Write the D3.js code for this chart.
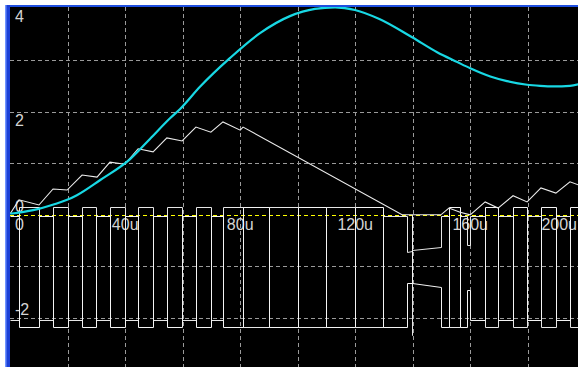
<!DOCTYPE html>
<html><head><meta charset="utf-8">
<script src="https://cdn.jsdelivr.net/npm/d3@7"></script>
<style>html,body{margin:0;padding:0;background:#fff;overflow:hidden}</style>
</head><body>
<svg id="c" width="578" height="367"></svg>
<script>
// ---- data (time in µs, value in V/A) ----
const xTicks = [0, 40, 80, 120, 160, 200];
const xTickLabels = ["0", "40u", "80u", "120u", "160u", "200u"];
const xGrid = [20, 40, 60, 80, 100, 120, 140, 160, 180];
const yTicks = [4, 2, 0, -2];
const yTickLabels = ["4", "2", "0", "-2"];
const yGrid = [3, 2, 1, -1, -2];

// cyan trace (capacitor voltage)
const cyanT = [0, 8, 15.6, 19.8, 23.2, 31.2, 41.7, 48.6, 55.6, 59.1, 66, 76.5, 86.9, 97.3, 106, 113, 119.9, 128.6, 139.8, 148.5, 155.5, 160, 167, 172.8, 179.8, 184.3, 189, 194.7, 197.6];
const cyanV = [0.02, 0.09, 0.21, 0.29, 0.38, 0.67, 1.08, 1.47, 1.87, 2.05, 2.48, 3.04, 3.52, 3.85, 3.99, 4.02, 3.97, 3.79, 3.44, 3.15, 2.96, 2.84, 2.68, 2.59, 2.52, 2.5, 2.49, 2.5, 2.53];

// white zig-zag trace (inductor current)
const ripT = [0, 3.06, 10, 14.9, 19.8, 25, 30.2, 34.7, 39.9, 44.5, 49.7, 54.5, 59.8, 64.6, 69.8, 74, 80, 81, 136.3, 149.8, 152.6, 156.5, 160, 165.2, 169.7, 174.9, 179.8, 184.6, 189.8, 194.7, 197.6];
const ripV = [0.02, 0.29, 0.19, 0.5, 0.48, 0.77, 0.73, 1.02, 0.98, 1.28, 1.22, 1.49, 1.43, 1.7, 1.6, 1.8, 1.64, 1.7, 0.0, 0.0, 0.13, 0.05, 0.0, 0.25, 0.13, 0.37, 0.25, 0.52, 0.42, 0.64, 0.58];

// gate trace A (polyline vertices)
const gateAT = [0,3,3,10,10,15,15,20,20,25,25,30,30,34.7,34.7,39.9,39.9,44.5,44.5,49.7,49.7,54.5,54.5,59.8,59.8,64.6,64.6,69.8,69.8,74,74,81,81,90,90,100.1,100.1,109.8,109.8,119.9,119.9,129.7,129.7,138,138,139.6,139.6,139.6,149.8,149.8,152.6,152.6,156.5,156.5,158.9,158.9,160,160,165.2,165.2,169.7,169.7,174.9,174.9,179.8,179.8,184.6,184.6,189.8,189.8,194.7,194.7,198];
const gateAV = [-0.02,-0.02,-2.18,-2.18,-0.02,-0.02,-2.18,-2.18,-0.02,-0.02,-2.18,-2.18,-0.02,-0.02,-2.18,-2.18,-0.02,-0.02,-2.18,-2.18,-0.02,-0.02,-2.18,-2.18,-0.02,-0.02,-2.18,-2.18,-0.02,-0.02,-2.18,-2.18,0.15,0.15,-2.18,-2.18,0.15,0.15,-2.18,-2.18,0.15,0.15,-2.18,-2.18,-1.32,-1.32,0.0,-1.32,-1.40,-2.18,-2.18,0.15,0.15,-2.18,-2.18,-1.46,-1.46,-2.03,-2.03,0.15,0.15,-2.03,-2.03,0.15,0.15,-2.03,-2.03,0.15,0.15,-2.03,-2.03,0.15,0.15];

// gate trace B (polyline vertices)
const gateBT = [0,3,3,10,10,15,15,20,20,25,25,30,30,34.7,34.7,39.9,39.9,44.5,44.5,49.7,49.7,54.5,54.5,59.8,59.8,64.6,64.6,69.8,69.8,74,74,81,81,90,90,100.1,100.1,109.8,109.8,119.9,119.9,129.7,129.7,138,138,139.6,139.6,139.6,149.8,149.8,152.6,152.6,156.5,156.5,158.9,158.9,160,160,165.2,165.2,169.7,169.7,174.9,174.9,179.8,179.8,184.6,184.6,189.8,189.8,194.7,194.7,198];
const gateBV = [-2.03,-2.03,0.15,0.15,-2.03,-2.03,0.15,0.15,-2.03,-2.03,0.15,0.15,-2.03,-2.03,0.15,0.15,-2.03,-2.03,0.15,0.15,-2.03,-2.03,0.15,0.15,-2.03,-2.03,0.15,0.15,-2.03,-2.03,0.15,0.15,-2.18,-2.18,0.15,0.15,-2.18,-2.18,0.15,0.15,-2.18,-2.18,-0.02,-0.02,-0.72,-0.70,-2.33,-0.68,-0.62,-0.02,-0.02,-2.18,-2.18,-0.02,-0.02,-0.585,-0.585,-0.02,-0.02,-2.18,-2.18,-0.02,-0.02,-2.18,-2.18,-0.02,-0.02,-2.18,-2.18,-0.02,-0.02,-2.18,-2.18];

// ---- drawing ----
const W = 578, H = 367;
const L = 10, T = 7;
const svg = d3.select("#c");
const x = d3.scaleLinear().domain([0, 200]).range([10.2, 585.2]);
const y = d3.scaleLinear().domain([-3, 4]).range([369.6, 8.4]);

// frame
svg.append("rect").attr("x", 0).attr("y", 0).attr("width", W).attr("height", H).attr("fill", "#ffffff");
svg.append("rect").attr("x", 5).attr("y", 5).attr("width", W - 5).attr("height", 2).attr("fill", "#1f4fe0");
svg.append("rect").attr("x", 5).attr("y", 5).attr("width", 5).attr("height", H - 5).attr("fill", "#1a3fd6");
svg.append("rect").attr("x", 5).attr("y", 5).attr("width", 1.5).attr("height", H - 5).attr("fill", "#6f94ff");
svg.append("rect").attr("x", L).attr("y", T).attr("width", W - L).attr("height", H - T).attr("fill", "#000000");

svg.append("defs").append("clipPath").attr("id", "clip")
  .append("rect").attr("x", L).attr("y", T).attr("width", W - L).attr("height", H - T);
const g = svg.append("g").attr("clip-path", "url(#clip)");

// grid
g.selectAll(".vg").data(xGrid).join("line")
  .attr("x1", d => Math.round(x(d)) + 0.5).attr("x2", d => Math.round(x(d)) + 0.5)
  .attr("y1", T).attr("y2", H)
  .attr("stroke", "#9a9a9a").attr("stroke-width", 1).attr("stroke-dasharray", "4,3");
g.selectAll(".hg").data(yGrid).join("line")
  .attr("y1", d => Math.round(y(d)) + 0.5).attr("y2", d => Math.round(y(d)) + 0.5)
  .attr("x1", L).attr("x2", W)
  .attr("stroke", "#9a9a9a").attr("stroke-width", 1).attr("stroke-dasharray", "4,3");

// labels
const fontFam = "'Liberation Sans', Arial, sans-serif";
g.selectAll(".yl").data(yTicks).join("text")
  .attr("x", 15)
  .attr("y", d => d > 0 ? y(d) + 14 : y(d) - 3)
  .attr("fill", "#d4d4d4").attr("font-family", fontFam).attr("font-size", 16)
  .text((d, i) => yTickLabels[i]);

const xl = g.selectAll(".xl").data(xTicks).join("text")
  .attr("y", y(0) + 15.5)
  .attr("fill", "#d4d4d4").attr("font-family", fontFam).attr("font-size", 16)
  .attr("text-anchor", "middle")
  .text((d, i) => xTickLabels[i]);
xl.each(function(d) {
  const w = this.getComputedTextLength();
  let cx = x(d);
  cx = Math.max(cx, 15 + w / 2);
  cx = Math.min(cx, 577 - w / 2);
  d3.select(this).attr("x", cx);
});

// zero line (yellow dashed)
g.append("line").attr("x1", L).attr("x2", W)
  .attr("y1", Math.round(y(0)) + 0.5).attr("y2", Math.round(y(0)) + 0.5)
  .attr("stroke", "#ffff00").attr("stroke-width", 1).attr("stroke-dasharray", "4,3");

// gate traces
const lineStep = d3.line().x(d => Math.round(x(d[0])) + 0.5).y(d => Math.round(y(d[1])) + 0.5);
const gA = gateAT.map((t, i) => [t, gateAV[i]]);
const gB = gateBT.map((t, i) => [t, gateBV[i]]);
g.append("path").attr("d", lineStep(gB)).attr("fill", "none")
  .attr("stroke", "#e6e6e6").attr("stroke-width", 1);
g.append("path").attr("d", lineStep(gA)).attr("fill", "none")
  .attr("stroke", "#f4f4f4").attr("stroke-width", 1);

// ripple trace
const lineLin = d3.line().x(d => x(d[0])).y(d => y(d[1]));
g.append("path").attr("d", lineLin(ripT.map((t, i) => [t, ripV[i]])))
  .attr("fill", "none").attr("stroke", "#ececec").attr("stroke-width", 1.1);

// cyan trace
const lineSmooth = d3.line().x(d => x(d[0])).y(d => y(d[1])).curve(d3.curveMonotoneX);
g.append("path").attr("d", lineSmooth(cyanT.map((t, i) => [t, cyanV[i]])))
  .attr("fill", "none").attr("stroke", "#18d8e4").attr("stroke-width", 2.2);
</script>
</body></html>
